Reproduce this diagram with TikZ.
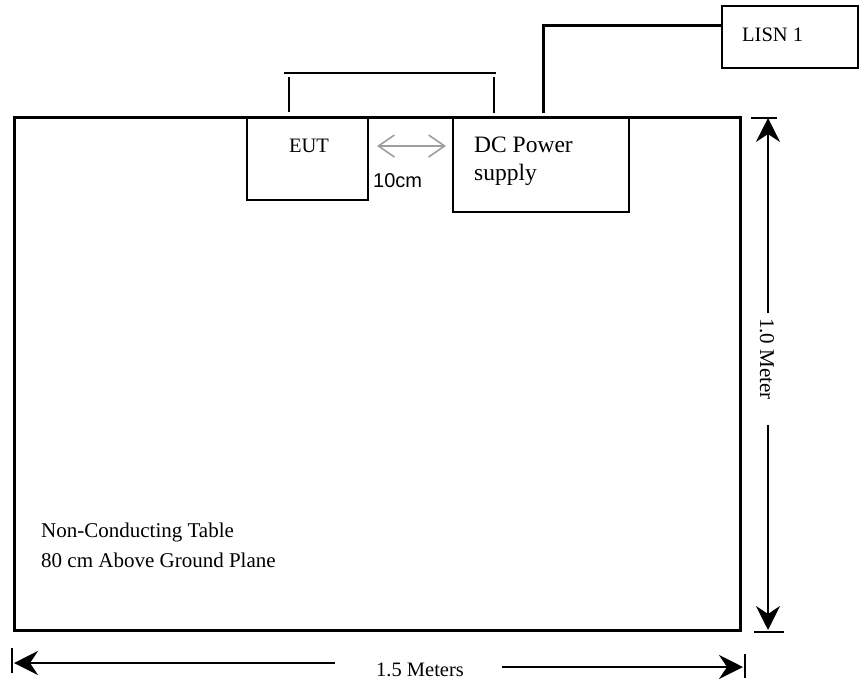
\documentclass[tikz,border=0pt]{standalone}
\usepackage{fontspec}
\setmainfont{Liberation Serif}
\newfontfamily\arialfont{Liberation Sans}
\usetikzlibrary{arrows.meta}
\begin{document}
\begin{tikzpicture}[x=1pt,y=-1pt,
  box/.style={draw, line width=2pt, rectangle, inner sep=0pt},
  txt/.style={inner sep=0pt, font=\fontsize{20.5pt}{24pt}\selectfont},
  cable/.style={line width=2pt},
  dimline/.style={line width=1.6pt},
  dimtip/.style={-{Stealth[length=24pt,width=24pt,inset=8pt]}},
  gaptip/.style={draw=black!38, line width=1.6pt,
     {Straight Barb[length=16pt,width=22pt]}-{Straight Barb[length=16pt,width=22pt]}}]
\useasboundingbox (0,0) rectangle (860,683);

% table
\node[box, line width=3pt, minimum width=726pt, minimum height=513pt] (table) at (377,373.5) {};
% equipment boxes
\node[box, minimum width=121pt, minimum height=83pt] (eut) at (307.5,158.5) {};
\node[box, minimum width=176pt, minimum height=95pt] (dc) at (541,164.5) {};
\node[box, minimum width=136pt, minimum height=62pt] (lisn) at (790,37) {};

% labels
\node[txt, anchor=base] (eutlabel) at (309,152) {EUT};
\node[txt, anchor=base west, font=\fontsize{23.5pt}{27pt}\selectfont] (dclabel1) at (474,152) {DC Power};
\node[txt, anchor=base west, font=\fontsize{23.5pt}{27pt}\selectfont] (dclabel2) at (474,180) {supply};
\node[txt, anchor=base west, font=\arialfont\fontsize{20pt}{24pt}\selectfont] (gaplabel) at (373,187) {10cm};
\node[txt, anchor=base west] (lisnlabel) at (742,41) {LISN 1};
\node[txt, anchor=base west, font=\fontsize{21pt}{25pt}\selectfont] (tablelabel1) at (41,537) {Non-Conducting Table};
\node[txt, anchor=base west, font=\fontsize{21pt}{25pt}\selectfont] (tablelabel2) at (41,567) {80 cm Above Ground Plane};
\node[txt, rotate=-90, font=\fontsize{21pt}{25pt}\selectfont] (heightlabel) at (767,359) {1.0 Meter};
\node[txt, anchor=base west] (widthlabel) at (376,676) {1.5 Meters};

% cable between EUT and DC power supply
\coordinate (c1) at (289,112);
\coordinate (c2) at (289,77);
\coordinate (c3) at (284,73);
\coordinate (c4) at (496,73);
\coordinate (c5) at (494,77);
\coordinate (c6) at (494,113);
\draw[cable] (c1) -- (c2);
\draw[cable] (c3) -- (c4);
\draw[cable] (c5) -- (c6);

% cable from DC power supply to LISN
\coordinate (p1) at (543,113);
\draw[line width=3pt] (p1) |- ([yshift=12pt]lisn.west);

% 10 cm gap arrow
\coordinate (g1) at (377,146);
\coordinate (g2) at (446,146);
\draw[gaptip] (g1) -- (g2);

% vertical dimension
\coordinate (vt) at (768,118);
\coordinate (vb) at (768,630);
\draw[dimline] (751,118) -- (777,118);
\draw[dimline] (754,632) -- (784,632);
\draw[dimline, dimtip] (768,313) -- (vt);
\draw[dimline, dimtip] (768,425) -- (vb);

% horizontal dimension
\coordinate (hl) at (14,663);
\coordinate (hr) at (743,667);
\draw[dimline] (12,648) -- (12,673);
\draw[dimline] (745,654) -- (745,678);
\draw[dimline, dimtip] (335,663) -- (hl);
\draw[dimline, dimtip] (502,667) -- (hr);
\end{tikzpicture}
\end{document}
